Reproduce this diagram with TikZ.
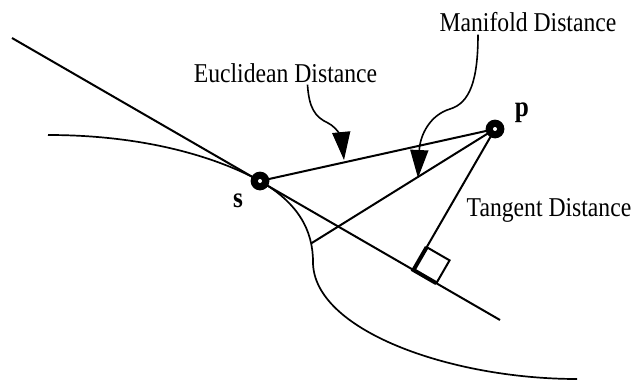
\documentclass[tikz,border=0pt]{standalone}
\usepackage{fontspec}
\setmainfont{Liberation Serif}
\newfontfamily\lblfont[FakeStretch=0.87]{Liberation Serif}
\usetikzlibrary{calc,arrows.meta}
\begin{document}
\begin{tikzpicture}[x=0.5pt,y=-0.5pt,
  line/.style={line width=1pt},
  curvestyle/.style={line width=0.85pt},
  pointer/.style={line width=0.8pt,-{Triangle[length=14pt,width=9pt]}},
  lbl/.style={font=\lblfont\fontsize{13.6pt}{16pt}\selectfont, inner sep=0pt, anchor=base},
  ptlbl/.style={font=\lblfont\bfseries\fontsize{14.5pt}{16pt}\selectfont, inner sep=0pt, anchor=base},
  dot/.style={circle, fill=black, minimum size=9.4pt, inner sep=0pt, outer sep=0pt},
  hole/.style={circle, fill=white, minimum size=2pt, inner sep=0pt, outer sep=0pt}]
\useasboundingbox (0,0) rectangle (637,380);
% geometry
\coordinate (A) at (12,38);
\coordinate (B) at (500,320);
\coordinate (s) at (260,181);
\coordinate (p) at (495,129);
\coordinate (f) at ($(A)!(p)!(B)$);
% tangent line
\draw[line] (A) -- (B);
% manifold curve
\draw[curvestyle] (48,135) .. controls (150,135) and (221,159.5) .. (s)
  .. controls (298,203) and (313,230) .. coordinate[pos=0.8] (q) (313,262)
  .. controls (313,330) and (450,379) .. (577,379);
% distances
\draw[line] (s) -- (p);
\draw[line] (q) -- (p);
\draw[line] (p) -- (f);
% right angle mark
\coordinate (f1) at ($(f)!13.2pt!(B)$);
\coordinate (f2) at ($(f)!13.2pt!(p)$);
\coordinate (f3) at ($(f1)+(f2)-(f)$);
\draw[line] (f1) -- (f3) -- (f2);
\draw[line width=2pt] (f2) -- (f) -- (f1);
% points
\node[dot] (sdot) at (s) {};
\node[hole] (shole) at (s) {};
\node[dot] (pdot) at (p) {};
\node[hole] (phole) at (p) {};
\node[ptlbl] (slbl) at (238,207) {s};
\node[ptlbl] (plbl) at (522,116) {p};
% labels
\node[lbl] (eu) at (285.5,82) {Euclidean Distance};
\node[lbl] (mf) at (528,32) {Manifold Distance};
\node[lbl] (tg) at (549,216) {Tangent Distance};
\coordinate (euTip) at (344,160);
\coordinate (mfTip) at (418,178);
\draw[pointer] ([xshift=11pt,yshift=-1pt]eu.south) .. controls (309,108) and (315,117) .. (328,123)
  .. controls (338,128) and (342,140) .. (euTip);
\draw[pointer] ([xshift=-25pt,yshift=-1pt]mf.south) .. controls (478,80) and (470,103) .. (450,109)
  .. controls (430,115) and (420,135) .. (mfTip);
\end{tikzpicture}
\end{document}
